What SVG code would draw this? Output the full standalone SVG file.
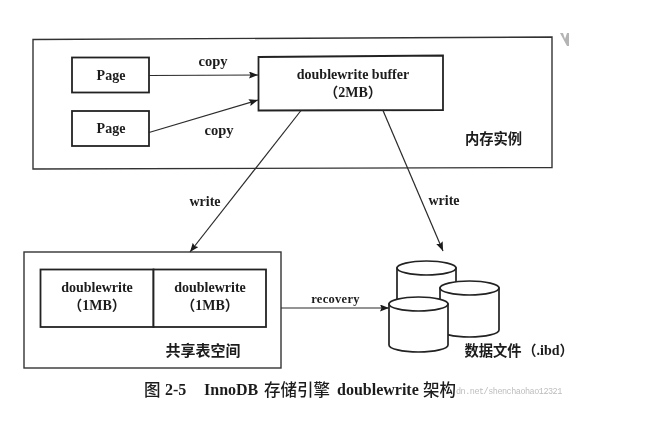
<svg xmlns="http://www.w3.org/2000/svg" width="671" height="438" viewBox="0 0 671 438">
<style>
text{font-family:"Liberation Serif","Noto Sans CJK SC",serif;fill:#1c1c1c;text-anchor:middle;font-weight:bold}
.t{font-size:14px}
.c{font-size:14.300px;font-family:"Noto Sans CJK SC",serif}
.cap{font-size:16px;text-anchor:start}
.capc{font-size:16.500px;text-anchor:start;font-family:"Noto Sans CJK SC",serif;font-weight:500}
.box{fill:#fff;stroke:#222;stroke-width:1.8}
.thin{fill:none;stroke:#333;stroke-width:1.4}
.cyl{fill:#fff;stroke:#222;stroke-width:1.7}
.line{fill:none;stroke:#2a2a2a;stroke-width:1.2;marker-end:url(#arrow)}
</style>
<defs>
<marker id="arrow" markerUnits="userSpaceOnUse" markerWidth="10" markerHeight="8" refX="9" refY="3.5" orient="auto"><path d="M0 0L9 3.500L0 7L1.500 3.500Z" fill="#1a1a1a"/></marker>
<filter id="soft" x="-2%" y="-2%" width="104%" height="104%"><feGaussianBlur stdDeviation="0.4"/></filter>
</defs>
<rect width="671" height="438" fill="#fff"/>
<g filter="url(#soft)">
<polygon points="560,33 563,33 565,39 567,33 569,33 569,46 567,46" fill="#b4b4b4"/>
<g id="memory-instance"><path class="thin" d="M33 39.500L552 37V167.500L33 169Z"/><text class="c" x="493.500" y="144">内存实例</text></g>
<g id="page-1"><rect class="box" x="72" y="57.500" width="77" height="35"/><text class="t" x="111" y="80">Page</text></g>
<g id="page-2"><rect class="box" x="72" y="111" width="77" height="35"/><text class="t" x="111" y="133">Page</text></g>
<g id="doublewrite-buffer"><path class="box" d="M258.500 57L443 55.500V110L258.500 110.500Z"/><text class="t" x="353" y="79">doublewrite buffer</text><text class="t" x="353" y="97">（2MB）</text></g>
<g id="shared-tablespace"><rect class="thin" x="24" y="252" width="257" height="116"/><text class="c" x="203" y="356" style="font-size:15px">共享表空间</text></g>
<g id="doublewrite-1"><rect class="box" x="40.500" y="269.500" width="113" height="57.500"/><text class="t" x="97" y="292">doublewrite</text><text class="t" x="97" y="310">（1MB）</text></g>
<g id="doublewrite-2"><rect class="box" x="153.500" y="269.500" width="112.500" height="57.500"/><text class="t" x="210" y="292">doublewrite</text><text class="t" x="210" y="310">（1MB）</text></g>
<g id="data-files">
<path class="cyl" d="M397 268V321A29.500 7 0 0 0 456 321V268Z"/><ellipse class="cyl" cx="426.500" cy="268" rx="29.500" ry="7"/>
<path class="cyl" d="M440 288V330A29.500 7 0 0 0 499 330V288Z"/><ellipse class="cyl" cx="469.500" cy="288" rx="29.500" ry="7"/>
<path class="cyl" d="M389 304V345A29.500 7 0 0 0 448 345V304Z"/><ellipse class="cyl" cx="418.500" cy="304" rx="29.500" ry="7"/>
<text class="c" x="493" y="356">数据文件</text><text class="t" x="548" y="355">（.ibd）</text>
</g>
<g id="connectors">
<path class="line" d="M149 75.500L258 75"/>
<path class="line" d="M149 132.500L258 100"/>
<path class="line" d="M301 110.500L190 252"/>
<path class="line" d="M383 110.500L443 251"/>
<path class="line" d="M281 308H389"/>
</g>
<g id="edge-labels">
<text class="t" x="213" y="66" style="font-size:14.500px">copy</text>
<text class="t" x="219" y="135" style="font-size:14.500px">copy</text>
<text class="t" x="205" y="206">write</text>
<text class="t" x="444" y="205">write</text>
<text class="t" x="335.500" y="303" style="font-size:12.500px;letter-spacing:.3px">recovery</text>
</g>
<g id="caption">
<text class="capc" x="144" y="396">图</text>
<text class="cap" x="165" y="395">2-5</text>
<text class="cap" x="204" y="395">InnoDB</text>
<text class="capc" x="264" y="396">存储引擎</text>
<text class="cap" x="337" y="395">doublewrite</text>
<text class="capc" x="423" y="396">架构</text>
<text x="456" y="394" style="font-size:8.500px;font-weight:normal;text-anchor:start;font-family:'Liberation Mono',monospace;fill:#bdbdbd;letter-spacing:-.5px">dn.net/shenchaohao12321</text>
</g>
</g>
</svg>
